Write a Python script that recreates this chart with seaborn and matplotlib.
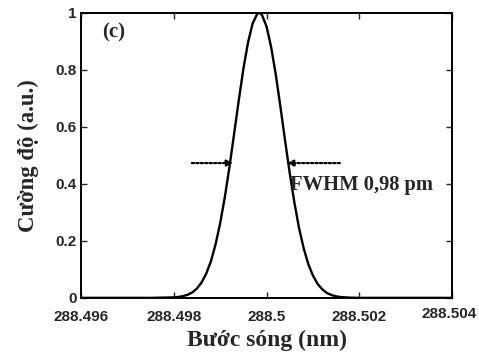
import numpy as np
import matplotlib
matplotlib.use("Agg")
import matplotlib.pyplot as plt
import matplotlib.transforms as mtransforms
import seaborn as sns

# phổ phản xạ (c)
wavelength = [288.4960, 288.4975, 288.4980, 288.4981, 288.4982, 288.4983, 288.4984,
              288.4985, 288.4986, 288.4987, 288.4988, 288.4989, 288.4990, 288.4991,
              288.4992, 288.4993, 288.4994, 288.4995, 288.4996, 288.4997, 288.4998,
              288.49984, 288.4999, 288.5000, 288.5001, 288.5002, 288.5003, 288.5004,
              288.5005, 288.5006, 288.5007, 288.5008, 288.5009, 288.5010, 288.5011,
              288.5012, 288.5013, 288.5014, 288.5015, 288.5016, 288.5018, 288.5020,
              288.5040]
intensity = [0.0, 0.0, 0.0016, 0.0032, 0.006, 0.011, 0.019,
             0.033, 0.054, 0.085, 0.128, 0.187, 0.262, 0.353,
             0.459, 0.575, 0.692, 0.803, 0.896, 0.963, 0.997,
             1.0, 0.993, 0.952, 0.879, 0.782, 0.669, 0.551,
             0.437, 0.334, 0.245, 0.174, 0.118, 0.078, 0.049,
             0.030, 0.017, 0.0098, 0.0053, 0.0028, 0.0007, 0.0,
             0.0]

xticks = [288.496, 288.498, 288.500, 288.502, 288.504]
xtick_labels = ["288.496", "288.498", "288.5", "288.502", "288.504"]
yticks = [0, 0.2, 0.4, 0.6, 0.8, 1.0]
ytick_labels = ["0", "0.2", "0.4", "0.6", "0.8", "1"]

# mũi tên FWHM
arrow_y = 0.473
left_arrow = (288.49839, 288.49928)
right_arrow = (288.50158, 288.50044)

sns.set_style("ticks")
plt.rcParams["font.family"] = ["Liberation Sans", "DejaVu Sans"]

fig = plt.figure(figsize=(4.79, 3.58), dpi=100)
ax = fig.add_axes([0.169, 0.168, 0.775, 0.796])

sns.lineplot(x=wavelength, y=intensity, color="black", linewidth=1.7, ax=ax)

ax.set_xlim(288.496, 288.504)
ax.set_ylim(0, 1)
ax.set_xticks(xticks)
ax.set_xticklabels(xtick_labels)
ax.set_yticks(yticks)
ax.set_yticklabels(ytick_labels)
ax.tick_params(direction="in", top=True, right=True, length=4, width=1,
               labelsize=11, pad=3)
ax.tick_params(axis="x", pad=9)
for lab in ax.get_xticklabels() + ax.get_yticklabels():
    lab.set_fontweight("semibold")
# nhãn cuối sát mép phải, đẩy vào trong một chút
last = ax.get_xticklabels()[-1]
last.set_transform(last.get_transform() +
                   mtransforms.ScaledTranslation(-3 / 100, 3 / 100, fig.dpi_scale_trans))
for s in ax.spines.values():
    s.set_linewidth(1.4)
    s.set_color("black")

serif = ["Liberation Serif", "DejaVu Serif"]
ax.set_xlabel("Bước sóng (nm)", fontsize=17, fontweight="bold", family=serif, labelpad=4)
ax.set_ylabel("Cường độ (a.u.)", fontsize=16.4, fontweight="bold", family=serif, labelpad=12)

for x0, x1 in (left_arrow, right_arrow):
    ax.annotate("", xy=(x1, arrow_y), xytext=(x0, arrow_y),
                arrowprops=dict(arrowstyle="-|>", linestyle=(0, (1, 1)),
                                color="black", lw=1.6, mutation_scale=9,
                                shrinkA=0, shrinkB=0))

ax.text(288.50051, 0.396, "FWHM 0,98 pm", fontsize=14.8, fontweight="bold",
        family=serif, va="center", ha="left")
ax.text(288.49645, 0.93, "(c)", fontsize=15, fontweight="bold",
        family=serif, va="center", ha="left")

fig.savefig("out.png", dpi=100)
